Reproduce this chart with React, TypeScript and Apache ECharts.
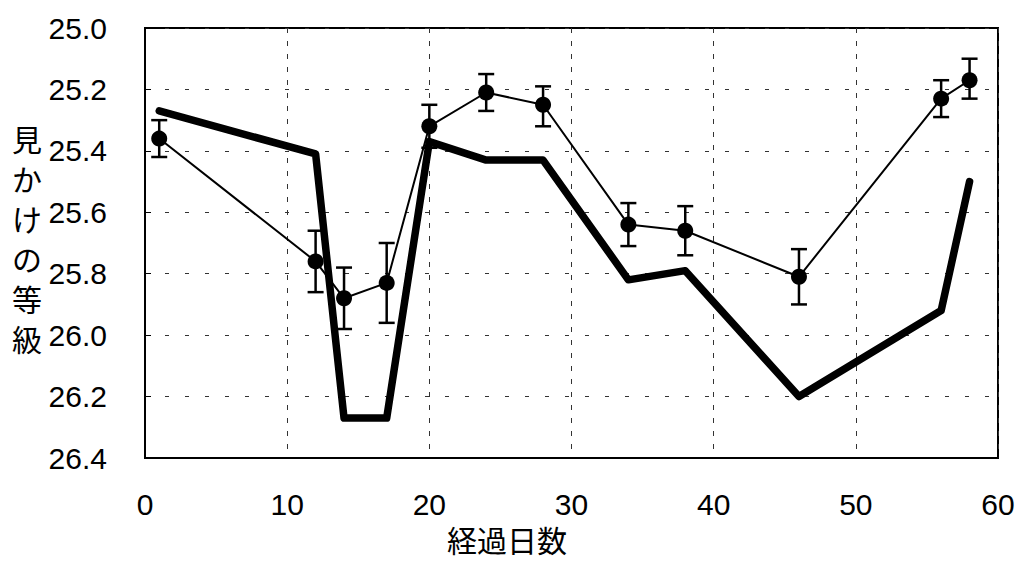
import React, { useEffect, useRef } from "react";
import * as echarts from "echarts";

// Elapsed days and values
const curveDays = [1, 12, 14, 17, 20, 24, 28, 34, 38, 46, 56, 58];
const curveMag = [25.27, 25.41, 26.27, 26.27, 25.37, 25.43, 25.43, 25.82, 25.79, 26.2, 25.92, 25.5];

const obsDays = [1, 12, 14, 17, 20, 24, 28, 34, 38, 46, 56, 58];
const obsMag = [25.36, 25.76, 25.88, 25.83, 25.32, 25.21, 25.25, 25.64, 25.66, 25.81, 25.23, 25.17];
const obsLow = [25.3, 25.66, 25.78, 25.7, 25.25, 25.15, 25.19, 25.57, 25.58, 25.72, 25.17, 25.1];
const obsHigh = [25.42, 25.86, 25.98, 25.96, 25.39, 25.27, 25.32, 25.71, 25.74, 25.9, 25.29, 25.23];

const xTitle = "経過日数";
const yTitle = "見かけの等級";

export default function App() {
  const ref = useRef<HTMLDivElement>(null);
  useEffect(() => {
    if (!ref.current) return;
    const chart = echarts.init(ref.current, null, { renderer: "svg", width: 1020, height: 562 });
    const font = "'Liberation Sans', Arial, sans-serif";
    const cjk = "'Noto Sans CJK JP', sans-serif";
    chart.setOption({
      animation: false,
      backgroundColor: "#fff",
      grid: {
        left: 145,
        right: 22,
        top: 28,
        bottom: 104,
        show: true,
        borderColor: "#000",
        borderWidth: 2,
        outerBoundsMode: "none",
        containLabel: false,
      },
      xAxis: {
        type: "value",
        min: 0,
        max: 60,
        interval: 10,
        axisLine: { show: true, lineStyle: { color: "#000", width: 2 } },
        axisTick: { show: false },
        axisLabel: { fontFamily: font, fontSize: 30, color: "#000", margin: 31 },
        splitLine: { show: true, lineStyle: { color: "#333", type: [5, 8], width: 1 } },
      },
      yAxis: {
        type: "value",
        inverse: true,
        min: 25,
        max: 26.4,
        interval: 0.2,
        axisLine: { show: true, lineStyle: { color: "#000", width: 2 } },
        axisTick: { show: true, inside: true, length: 6, lineStyle: { color: "#000", width: 1 } },
        axisLabel: {
          fontFamily: font,
          fontSize: 30,
          color: "#000",
          margin: 38,
          formatter: (v: number) => v.toFixed(1),
        },
        splitLine: { show: true, lineStyle: { color: "#333", type: [4, 16], width: 1 } },
      },
      graphic: [
        {
          type: "text",
          left: 12,
          top: 118,
          style: {
            text: yTitle.split("").join("\n"),
            fontFamily: cjk,
            fontSize: 30,
            lineHeight: 40,
            fill: "#000",
            align: "center",
          },
        },
        {
          type: "text",
          x: 507,
          y: 539,
          style: {
            text: xTitle,
            fontFamily: cjk,
            fontSize: 30,
            lineHeight: 30,
            fill: "#000",
            align: "center",
            verticalAlign: "middle",
          },
        },
      ],
      series: [
        {
          type: "line",
          data: curveDays.map((d, i) => [d, curveMag[i]]),
          showSymbol: false,
          lineStyle: { color: "#000", width: 7.5, cap: "round", join: "round" },
          z: 2,
        },
        {
          type: "custom",
          data: obsDays.map((d, i) => [d, obsLow[i], obsHigh[i]]),
          renderItem: (params: any, api: any) => {
            const x = api.value(0);
            const lo = api.coord([x, api.value(1)]);
            const hi = api.coord([x, api.value(2)]);
            const hw = 8;
            const st = { stroke: "#000", lineWidth: 2.5 };
            return {
              type: "group",
              children: [
                { type: "line", shape: { x1: lo[0], y1: lo[1], x2: hi[0], y2: hi[1] }, style: st },
                { type: "line", shape: { x1: lo[0] - hw, y1: lo[1], x2: lo[0] + hw, y2: lo[1] }, style: st },
                { type: "line", shape: { x1: hi[0] - hw, y1: hi[1], x2: hi[0] + hw, y2: hi[1] }, style: st },
              ],
            };
          },
          z: 3,
        },
        {
          type: "line",
          data: obsDays.map((d, i) => [d, obsMag[i]]),
          symbol: "circle",
          symbolSize: 16,
          itemStyle: { color: "#000" },
          lineStyle: { color: "#000", width: 2 },
          z: 4,
        },
      ],
    });
    return () => chart.dispose();
  }, []);
  return (
    <div
      ref={ref}
      style={{ position: "fixed", left: 0, top: 0, width: 1020, height: 562, background: "#fff" }}
    />
  );
}
